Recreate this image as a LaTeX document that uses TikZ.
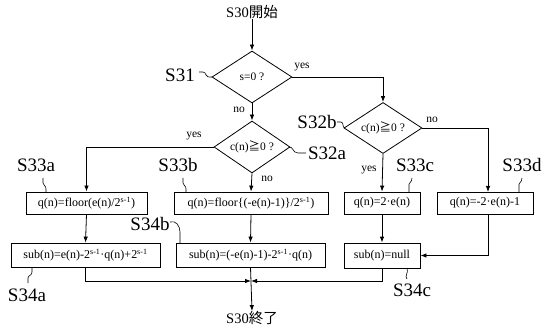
\documentclass[tikz,border=0pt]{standalone}
\usepackage{fontspec}
\setmainfont{Liberation Serif}
\newfontfamily\cjk{Noto Sans CJK JP}
\usetikzlibrary{shapes.geometric,arrows.meta,calc}
\begin{document}
\begin{tikzpicture}[x=1pt,y=-1pt,
  every node/.style={inner sep=0pt},
  ln/.style={line width=0.8pt},
  arr/.style={ln,-{Latex[length=6pt,width=4.5pt]}},
  dia/.style={draw,ln,diamond,aspect=1.55,font=\fontsize{11.5}{13}\selectfont},
  box/.style={draw,ln,rectangle,minimum height=22pt,font=\fontsize{12}{13}\selectfont},
  lab/.style={font=\fontsize{19}{21}\selectfont},
  yn/.style={font=\fontsize{11.5}{13}\selectfont},
  term/.style={font=\fontsize{14.5}{16}\selectfont}]
\useasboundingbox (0,0) rectangle (546,331);
\newcommand{\gte}{{\cjk ≧}}
% terminals
\node[term] (start) at (252,12) {S30{\cjk 開始}};
\node[term] (end) at (252,318) {S30{\cjk 終了}};
% diamonds
\node[dia,minimum width=80pt,minimum height=52pt] (d1) at (252,77) {s=0 ?};
\node[dia,minimum width=76pt,minimum height=52pt] (d2) at (252,147) {c(n)\gte0 ?};
\node[dia,minimum width=78pt,minimum height=51pt] (d3) at (383,128) {c(n)\gte0 ?};
% boxes row 1
\node[box,minimum width=121pt] (b33a) at (86.5,203) {q(n)=floor(e(n)/2\textsuperscript{s-1})};
\node[box,minimum width=154pt] (b33b) at (251,203) {q(n)=floor\{(-e(n)-1)\}/2\textsuperscript{s-1})};
\node[box,minimum width=76pt] (b33c) at (382,203) {q(n)=2·e(n)};
\node[box,minimum width=96pt] (b33d) at (485,203) {q(n)=-2·e(n)-1};
% boxes row 2
\node[box,minimum width=149pt,minimum height=24pt] (b34a) at (85.5,255) {sub(n)=e(n)-2\textsuperscript{s-1}·q(n)+2\textsuperscript{s-1}};
\node[box,minimum width=149pt,minimum height=24pt] (b34b) at (250.5,255) {sub(n)=(-e(n)-1)-2\textsuperscript{s-1}·q(n)};
\node[box,minimum width=76pt,minimum height=25pt] (b34c) at (382,255.5) {sub(n)=null};
\coordinate (j) at (251,281);
\coordinate (dtop) at (488,192);
\coordinate (dbot) at (488,214);
% connectors
\draw[arr] (start) -- (d1);
\draw[arr] (d1.east) -| (d3.north);
\draw[arr] (d1.south) -- (d2.north);
\draw[arr] (d2.west) -| (b33a.north);
\draw[arr] (d2.south) -- (b33b.north);
\draw[arr] (d3.east) -| (dtop);
\draw[arr] (d3.south) -- (b33c.north);
\draw[arr] (b33a.south) -- (b34a.north);
\draw[arr] (b33b.south) -- (b34b.north);
\draw[arr] (b33c.south) -- (b34c.north);
\draw[arr] (dbot) |- (b34c.east);
\draw[arr] (b34a.south) |- (j);
\draw[arr] (b34c.south) |- (j);
\draw[arr] (b34b.south) -- (end.north);
% yes/no
\node[yn] (y1) at (302,67) {yes};
\node[yn] (n1) at (239,110) {no};
\node[yn] (y2) at (194,136) {yes};
\node[yn] (n2) at (267,179) {no};
\node[yn] (n3) at (432,120) {no};
\node[yn] (y3) at (369,170) {yes};
% step labels
\node[lab] (l31) at (180,75) {S31};
\node[lab] (l32a) at (327,153) {S32a};
\node[lab] (l32b) at (317,122) {S32b};
\node[lab] (l33a) at (36,165) {S33a};
\node[lab] (l33b) at (178,165) {S33b};
\node[lab] (l33c) at (415,165) {S33c};
\node[lab] (l33d) at (522,165) {S33d};
\node[lab] (l34a) at (27,295) {S34a};
\node[lab] (l34b) at (150,224) {S34b};
\node[lab] (l34c) at (412,290) {S34c};
% leaders
\tikzset{lead/.style={line width=0.6pt}}
\draw[lead] (199,72) -- (203,72) .. controls (207,72) and (204,78) .. (212,77);
\draw[lead] (288,147) .. controls (294,146) and (292,153) .. (298,153) -- (306,153);
\draw[lead] (337,122) -- (341,122) .. controls (344,122) and (342,128) .. (345,128);
\draw[lead] (43,178) -- (43,183) .. controls (43,186) and (46,185) .. (46,189) -- (46,192);
\draw[lead] (183,178) -- (183,183) .. controls (183,186) and (186,185) .. (186,189) -- (186,192);
\draw[lead] (412,178) .. controls (412,183) and (408,182) .. (409,187) -- (409,192);
\draw[lead] (522,178) .. controls (522,183) and (518,182) .. (519,187) -- (519,192);
\draw[lead] (28,283) -- (28,278) .. controls (28,275) and (32,276) .. (32,272) -- (32,267);
\draw[lead] (170,222) .. controls (176,220) and (180,226) .. (180,232) -- (180,243);
\draw[lead] (407,279) .. controls (404,276) and (409,273) .. (407,268);
\end{tikzpicture}
\end{document}
